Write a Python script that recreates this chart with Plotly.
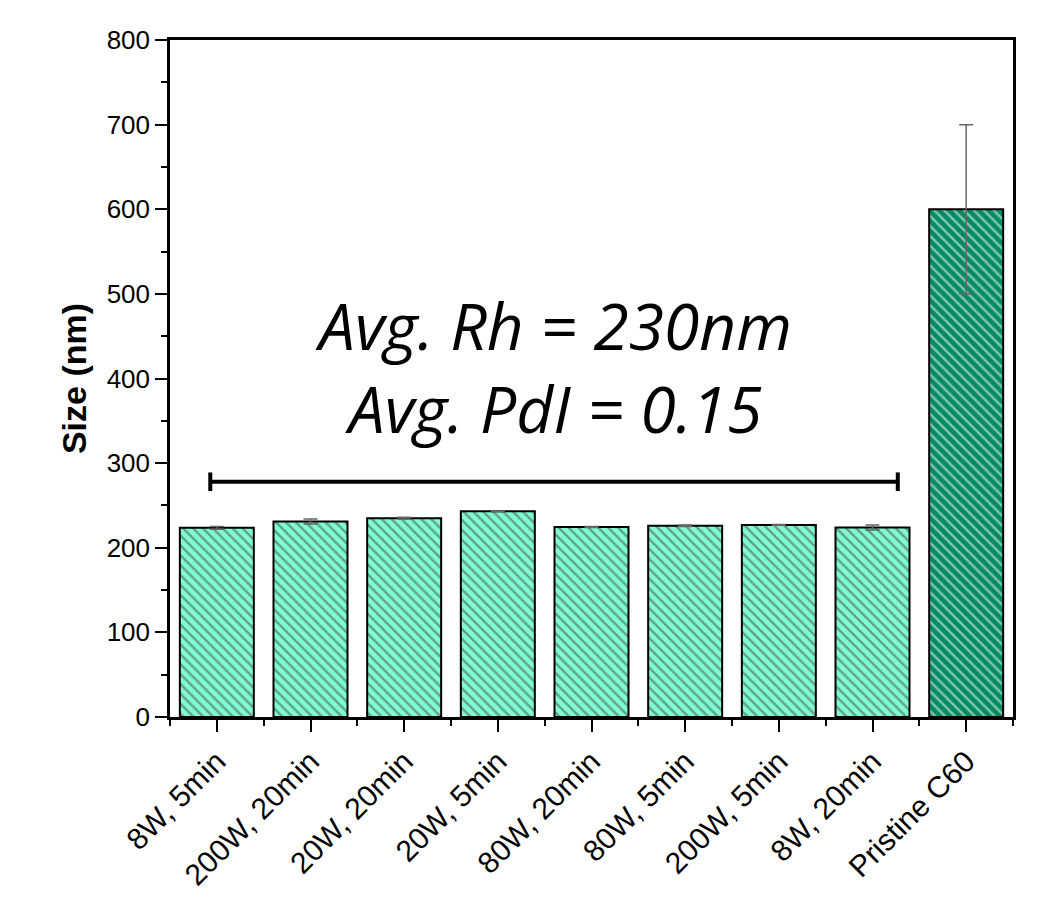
import plotly.graph_objects as go

categories = ["8W, 5min", "200W, 20min", "20W, 20min", "20W, 5min", "80W, 20min",
              "80W, 5min", "200W, 5min", "8W, 20min", "Pristine C60"]
sizes = [223.5, 231, 235, 243, 224.5, 226, 227, 224, 600]
errors = [1.5, 3, 1, 0.5, 0.5, 1, 0.5, 3, 100]
bar_colors = ["#7FFFD4"] * 8 + ["#008A60"]

bracket_x = [-0.07, 7.27]
bracket_y = 278
note_text = "<i>Avg. Rh = 230nm</i><br><i>Avg. PdI = 0.15</i>"
note_y = 414

x_idx = list(range(len(categories)))

fig = go.Figure()
fig.add_trace(go.Bar(
    x=x_idx, y=sizes, width=0.79,
    marker=dict(color=bar_colors,
                line=dict(color="black", width=2),
                pattern=dict(shape="\\", fgcolor="black", size=7, solidity=0.36)),
    error_y=dict(type="data", array=errors, visible=True, color="#666666",
                 thickness=1.5, width=7),
    showlegend=False,
))

# bracket
fig.add_shape(type="line", x0=bracket_x[0], x1=bracket_x[1], y0=bracket_y, y1=bracket_y,
              line=dict(color="black", width=4))
for bx in bracket_x:
    fig.add_shape(type="line", x0=bx, x1=bx, y0=bracket_y - 11, y1=bracket_y + 11,
                  line=dict(color="black", width=4))

fig.add_annotation(x=0.4555, xref="paper", y=note_y, yref="y", text=note_text,
                   showarrow=False, align="center",
                   font=dict(family="Open Sans", size=64, color="black"),
                   xanchor="center", yanchor="middle")

ytick_font = dict(family="Liberation Sans, Arial", size=26, color="black")
xtick_font = dict(family="Liberation Sans, Arial", size=30, color="black")
fig.update_layout(
    width=1063, height=897,
    margin=dict(l=162, r=58, t=32, b=188),
    paper_bgcolor="white", plot_bgcolor="white",
    xaxis=dict(range=[-0.5, 8.5], tickmode="array", tickvals=x_idx, ticktext=categories,
               tickangle=-45, ticks="outside", ticklen=12, tickwidth=2, tickcolor="black",
               showline=True, linewidth=2.5, linecolor="black", mirror=True,
               showgrid=False, zeroline=False, tickfont=xtick_font, automargin=False,
               minor=dict(tick0=0.5, dtick=1, ticks="outside", ticklen=6, tickwidth=2,
                          tickcolor="black", showgrid=False)),
    yaxis=dict(range=[0, 800], dtick=100, ticks="outside", ticklen=12, tickwidth=2,
               tickcolor="black", showline=True, linewidth=2.5, linecolor="black",
               mirror=True, showgrid=False, zeroline=False, tickfont=ytick_font,
               automargin=False,
               title=dict(text="<b>Size (nm)</b>",
                          font=dict(family="Liberation Sans, Arial", size=34, color="black"),
                          standoff=10),
               minor=dict(dtick=50, ticks="outside", ticklen=6, tickwidth=2,
                          tickcolor="black", showgrid=False)),
)

fig.write_html("out.html")
